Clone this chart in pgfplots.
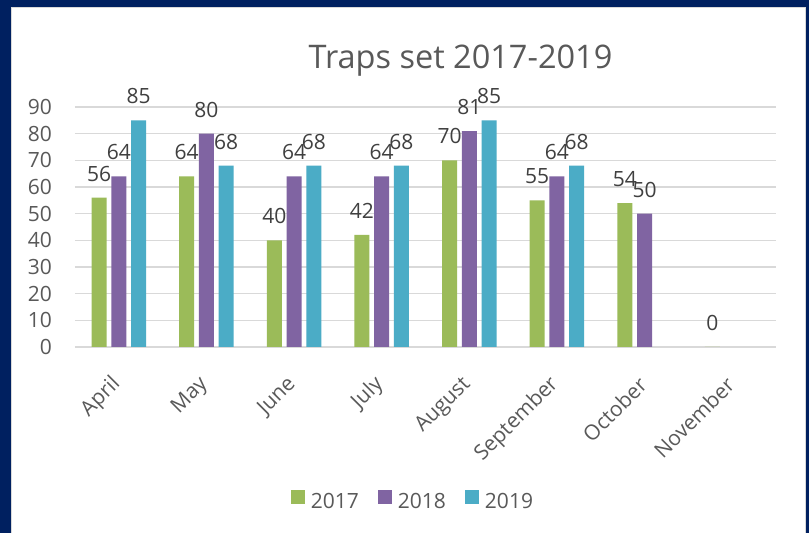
\documentclass[border=0pt]{standalone}
\usepackage{fontspec}
\setmainfont{Open Sans}
\usepackage{pgfplots}
\pgfplotsset{compat=1.18}
\definecolor{navy}{HTML}{002060}
\definecolor{cgreen}{HTML}{9BBB59}
\definecolor{cpurple}{HTML}{8064A2}
\definecolor{cteal}{HTML}{4BACC6}
\definecolor{txtgray}{HTML}{595959}
\definecolor{lblgray}{HTML}{404040}
\definecolor{gridgray}{HTML}{D9D9D9}
\newcommand{\lblfont}{\fontsize{21}{25}\selectfont}
\begin{document}
\begin{tikzpicture}[x=1pt,y=1pt]
\useasboundingbox (0,0) rectangle (809,533);
\fill[navy] (0,0) rectangle (809,533);
\fill[white] (11,0) rectangle (805,525);
\draw[gridgray, line width=1pt] (11,-2) -- (11,525) -- (805,525) -- (805,-2);
\node[anchor=base, text=txtgray, font=\fontsize{32.5}{38}\selectfont] at (460.5,464) {Traps set 2017-2019};
\begin{axis}[
  at={(75pt,186pt)}, anchor=south west,
  scale only axis, width=701pt, height=240pt,
  ymin=0, ymax=90, xmin=-0.5, xmax=7.5,
  ytick={0,10,...,90},
  xtick={0,...,7},
  xticklabels={April,May,June,July,August,September,October,November},
  ybar=4.7pt, bar width=15pt,
  clip=false,
  axis line style={draw=none},
  tick style={draw=none},
  ymajorgrids, grid style={gridgray, line width=1.3pt},
  /pgf/number format/assume math mode=true,
  ticklabel style={font=\lblfont, text=txtgray},
  yticklabel style={inner sep=0pt, xshift=-23pt},
  xticklabel style={rotate=45, anchor=east, xshift=-19pt, yshift=-20pt},
  nodes near coords,
  nodes near coords style={anchor=base, yshift=16.5pt, font=\lblfont, text=lblgray, inner sep=0pt},
  legend columns=3,
  legend style={draw=none, fill=none, at={(axis description cs:0.4807,-0.6375)}, anchor=center,
    font=\lblfont, text=txtgray, nodes={inner sep=0pt},
    column sep=6pt,
    /tikz/every even column/.append style={column sep=19pt}},
  legend image code/.code={\path[#1,draw=none] (0pt,-3pt) rectangle (14pt,11pt);},
]
\addplot[fill=cgreen, draw=none] coordinates {(0,56) (1,64) (2,40) (3,42) (4,70) (5,55) (6,54) (7,0)};
\addplot[fill=cpurple, draw=none] coordinates {(0,64) (1,80) (2,64) (3,64) (4,81) (5,64) (6,50)};
\addplot[fill=cteal, draw=none] coordinates {(0,85) (1,68) (2,68) (3,68) (4,85) (5,68)};
\legend{2017,2018,2019}
\end{axis}
\end{tikzpicture}
\end{document}
